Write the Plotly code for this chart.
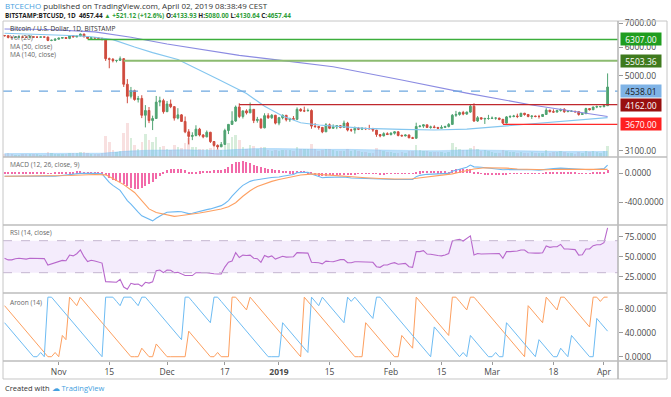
import math
import pandas as pd
import plotly.graph_objects as go

# ---------------- data ----------------
first_day = "2018-10-17"

opens = [6470, 6460, 6390, 6385, 6405, 6410, 6400, 6395, 6420, 6400,
         6400, 6410, 6405, 6270, 6275, 6320, 6360, 6385, 6350, 6465,
         6410, 6445, 6530, 6415, 6350, 6380, 6370, 6355, 6320, 5580,
         5560, 5510, 5520, 5580, 4740, 4390, 4550, 4300, 4330, 3890,
         4010, 3760, 3810, 4230, 4270, 3980, 4180, 4110, 3820, 3900,
         3740, 3500, 3400, 3420, 3560, 3430, 3390, 3490, 3290, 3210,
         3180, 3230, 3530, 3670, 3750, 4100, 3860, 4000, 3950, 4040,
         3760, 3790, 3590, 3880, 3830, 3890, 3700, 3830, 3890, 3780,
         3810, 3790, 4040, 4000, 4000, 4010, 3630, 3620, 3600, 3500,
         3660, 3580, 3610, 3640, 3600, 3700, 3540, 3540, 3580, 3560,
         3580, 3570, 3570, 3540, 3440, 3410, 3460, 3440, 3470, 3500,
         3420, 3410, 3430, 3370, 3360, 3620, 3630, 3660, 3600, 3610,
         3600, 3580, 3600, 3620, 3670, 3890, 3910, 3960, 3920, 3970,
         4120, 3750, 3830, 3800, 3810, 3810, 3820, 3820, 3790, 3700,
         3850, 3860, 3870, 3860, 3940, 3910, 3860, 3870, 3860, 3860,
         3910, 4020, 3980, 3970, 4010, 4040, 3980, 3990, 3990, 3980,
         3910, 3930, 4060, 4030, 4100, 4110, 4110, 4133.93]
highs = [6490, 6490, 6440, 6420, 6460, 6430, 6420, 6470, 6425, 6430,
         6430, 6420, 6420, 6300, 6350, 6380, 6400, 6390, 6480, 6470,
         6460, 6550, 6540, 6430, 6400, 6400, 6400, 6370, 6330, 5620,
         5600, 5530, 5660, 5600, 4900, 4660, 4580, 4400, 4420, 4150,
         4100, 3880, 4400, 4380, 4320, 4260, 4300, 4120, 4070, 3920,
         3860, 3560, 3490, 3650, 3590, 3450, 3530, 3500, 3300, 3230,
         3280, 3570, 3680, 3990, 4140, 4200, 4010, 4040, 4220, 4040,
         3850, 3820, 3940, 3940, 3920, 3900, 3850, 3910, 3890, 3830,
         3870, 4090, 4070, 4110, 4060, 4040, 3700, 3630, 3610, 3700,
         3690, 3670, 3650, 3650, 3760, 3730, 3570, 3620, 3610, 3600,
         3590, 3660, 3590, 3540, 3450, 3490, 3490, 3490, 3510, 3510,
         3440, 3440, 3440, 3390, 3710, 3650, 3670, 3660, 3640, 3650,
         3610, 3650, 3640, 3700, 3920, 4000, 3980, 4000, 3980, 4160,
         4200, 3870, 3830, 3830, 3900, 3860, 3840, 3830, 3800, 3870,
         3890, 3900, 3930, 3950, 3950, 3920, 3890, 3880, 3900, 3920,
         4070, 4020, 4040, 4030, 4060, 4070, 4010, 4010, 4000, 3990,
         3940, 4080, 4070, 4110, 4140, 4120, 4150, 5080.00]
lows = [6430, 6350, 6370, 6370, 6400, 6380, 6370, 6390, 6380, 6380,
        6390, 6390, 6240, 6240, 6250, 6300, 6350, 6330, 6320, 6390,
        6400, 6440, 6400, 6330, 6340, 6300, 6330, 6270, 5500, 5250,
        5450, 5450, 5510, 4660, 4200, 4330, 4270, 4220, 3820, 3600,
        3700, 3540, 3800, 4120, 3930, 3970, 4070, 3760, 3790, 3740,
        3470, 3230, 3320, 3400, 3400, 3360, 3380, 3260, 3180, 3130,
        3180, 3230, 3450, 3660, 3730, 3820, 3810, 3910, 3950, 3700,
        3710, 3570, 3580, 3800, 3800, 3670, 3650, 3790, 3740, 3730,
        3780, 3770, 3980, 3970, 3990, 3570, 3590, 3550, 3470, 3500,
        3560, 3570, 3560, 3580, 3600, 3510, 3500, 3460, 3540, 3540,
        3540, 3560, 3500, 3390, 3380, 3400, 3430, 3420, 3440, 3400,
        3400, 3400, 3360, 3350, 3350, 3600, 3590, 3590, 3570, 3580,
        3560, 3580, 3600, 3600, 3660, 3850, 3880, 3890, 3900, 3950,
        3730, 3730, 3780, 3680, 3780, 3800, 3780, 3770, 3680, 3690,
        3820, 3840, 3820, 3850, 3880, 3840, 3800, 3840, 3810, 3850,
        3900, 3960, 3950, 3960, 3980, 3950, 3970, 3980, 3950, 3880,
        3900, 3920, 4010, 4020, 4070, 4090, 4090, 4130.64]
closes = [6460, 6390, 6385, 6405, 6410, 6400, 6395, 6420, 6400, 6400,
          6410, 6405, 6270, 6275, 6320, 6360, 6385, 6350, 6465, 6410,
          6445, 6530, 6415, 6350, 6380, 6370, 6355, 6320, 5580, 5560,
          5510, 5520, 5580, 4740, 4390, 4550, 4300, 4330, 3890, 4010,
          3760, 3810, 4230, 4270, 3980, 4180, 4110, 3820, 3900, 3740,
          3500, 3400, 3420, 3560, 3430, 3390, 3490, 3290, 3210, 3180,
          3230, 3530, 3670, 3750, 4100, 3860, 4000, 3950, 4040, 3760,
          3790, 3590, 3880, 3830, 3890, 3700, 3830, 3890, 3780, 3810,
          3790, 4040, 4000, 4000, 4010, 3630, 3620, 3600, 3500, 3660,
          3580, 3610, 3640, 3600, 3700, 3540, 3540, 3580, 3560, 3580,
          3570, 3570, 3540, 3440, 3410, 3460, 3440, 3470, 3500, 3420,
          3410, 3430, 3370, 3360, 3620, 3630, 3660, 3600, 3610, 3600,
          3580, 3600, 3620, 3670, 3890, 3910, 3960, 3920, 3970, 4120,
          3750, 3830, 3800, 3810, 3810, 3820, 3820, 3790, 3700, 3850,
          3860, 3870, 3860, 3940, 3910, 3860, 3870, 3860, 3860, 3910,
          4020, 3980, 3970, 4010, 4040, 3980, 3990, 3990, 3980, 3910,
          3930, 4060, 4030, 4100, 4110, 4110, 4136.32, 4657.44]
volumes = [4, 4.5, 3.5, 2.5, 2.5, 3.5, 3.5, 4, 3.5, 3,
           2.5, 2.5, 6, 4.5, 4, 4, 4, 3, 5, 5,
           4.5, 6, 5.5, 4.5, 3, 3, 4, 4.5, 25, 18,
           8, 6, 7, 28, 40, 22, 14, 10, 18, 27,
           20, 18, 23, 12, 13, 9, 8, 14, 12, 11,
           16, 22, 12, 12, 10, 9, 9, 11, 12, 9,
           8, 16, 17, 24, 26, 20, 12, 9, 14, 13,
           10, 12, 12, 8, 7, 8, 7, 8, 8, 8,
           7, 12, 10, 10, 9, 15, 9, 7, 8, 10,
           9, 8, 7, 7, 7, 9, 7, 8, 7, 6,
           6, 5, 5, 11, 8, 7, 6, 6, 5, 5,
           6, 5, 7, 7, 14, 8, 7, 7, 6, 6,
           6, 6, 5, 6, 16, 12, 9, 8, 8, 11,
           13, 9, 7, 8, 7, 6, 5, 5, 8, 7,
           6, 6, 5, 6, 5, 5, 6, 5, 5, 5,
           8, 5, 6, 6, 7, 6, 5, 5, 4, 6,
           5, 7, 6, 7, 6, 5, 7, 13]

vol_ma_days = [0, 10, 20, 27, 30, 34, 40, 45, 50, 55, 60, 65, 70, 75, 80, 85,
               90, 95, 100, 105, 110, 115, 120, 125, 130, 135, 140, 145, 150,
               155, 160, 167]
vol_ma_values = [4, 4, 4.2, 4.5, 5.5, 7, 8, 8.5, 8.5, 8, 8, 9, 10, 10, 9.5, 9.5,
                 9, 9, 8.5, 8, 7.5, 7.5, 7.5, 8, 8.5, 8, 7.5, 7, 7,
                 6.5, 6.5, 6.5]

ma50_days = [0, 10, 20, 24, 30, 36, 41, 48, 54, 59, 67, 72, 77, 82, 87, 91,
             100, 110, 119, 128, 138, 147, 156, 164, 167]
ma50_values = [6560, 6520, 6460, 6420, 6300, 6010, 5800, 5550, 5200, 4900, 4470,
               4120, 3870, 3710, 3655, 3628, 3577, 3555, 3540, 3562, 3628, 3690,
               3753, 3806, 3831]
ma140_days = [0, 12, 25, 35, 45, 55, 65, 76, 91, 110, 128, 146, 155, 164, 167]
ma140_values = [6740, 6720, 6620, 6400, 6130, 5900, 5700, 5530, 5300, 4870, 4480,
                4155, 4030, 3910, 3860]

macd_days = [0, 6, 12, 14, 18, 21, 25, 27, 28, 29, 30, 31, 32, 33, 34, 35, 36,
             37, 38, 39, 40, 41, 42, 43, 44, 45, 46, 47, 48, 49, 50, 51, 52, 53,
             54, 55, 56, 57, 58, 59, 60, 61, 62, 63, 64, 65, 66, 67, 68, 69, 70,
             71, 72, 73, 74, 75, 76, 77, 78, 79, 80, 81, 82, 83, 84, 85, 86, 87,
             88, 89, 90, 91, 92, 94, 96, 98, 100, 102, 104, 106, 108, 110, 113,
             114, 115, 117, 120, 123, 124, 126, 128, 129, 130, 132, 135, 138,
             140, 143, 146, 148, 150, 152, 154, 156, 158, 160, 162, 164, 166, 167]
macd_values = [-45, -40, -42, -45, -25, -5, -5, -12, -70, -130, -170, -205, -240,
               -310, -380, -430, -490, -540, -590, -615, -645, -660, -625, -590,
               -565, -540, -535, -540, -532, -535, -547, -560, -555, -540, -525,
               -515, -505, -495, -480, -465, -450, -420, -380, -320, -260, -215,
               -170, -140, -115, -100, -90, -85, -75, -68, -62, -60, -55, -45,
               -35, -28, -20, 5, 10, 12, 10, -15, -35, -50, -65, -60, -60, -58,
               -52, -55, -68, -73, -75, -80, -90, -92, -90, -90, -90, -50, -32,
               -18, -8, -5, 25, 55, 80, 110, 85, 80, 62, 45, 48, 50, 45, 40, 55,
               62, 68, 62, 55, 42, 45, 52, 60, 110]
signal_days = [0, 12, 18, 25, 27, 28, 30, 33, 36, 38, 40, 42, 44, 46, 47, 48, 50,
               52, 54, 56, 58, 60, 62, 64, 66, 68, 70, 72, 74, 76, 78, 80, 82, 84,
               86, 88, 90, 92, 95, 98, 100, 104, 108, 113, 115, 118, 121, 124,
               126, 128, 130, 133, 136, 139, 142, 146, 150, 154, 158, 162, 167]
signal_values = [-45, -42, -35, -20, -18, -25, -75, -160, -268, -380, -495, -545,
                 -570, -585, -598, -592, -582, -568, -552, -535, -518, -497, -465,
                 -410, -320, -245, -185, -145, -115, -90, -68, -48, -28, -18, -12,
                 -22, -30, -35, -40, -55, -65, -75, -82, -80, -68, -45, -30, -12,
                 10, 30, 55, 72, 75, 68, 55, 48, 45, 52, 55, 50, 50]
macd_hist = [5, 5, 4, 4, 5, 5, 5, 5, 5, 5,
             5, 5, -5, -5, 3, 3, 3, 3, 15, 18,
             22, 25, 20, 15, 12, 10, 8, 5, -30, -70,
             -95, -115, -130, -150, -185, -205, -222, -225, -210, -180,
             -150, -125, -80, -35, 5, 35, 50, 58, 60, 50,
             35, 14, 13, 20, 27, 28, 30, 33, 38, 42,
             47, 61, 88, 118, 150, 158, 160, 150, 135, 115,
             95, 80, 70, 62, 53, 42, 35, 30, 28, 25,
             22, 30, 32, 28, 20, 5, -23, -35, -43, -35,
             -32, -28, -25, -20, -15, -18, -17, -15, -12, -10,
             -8, -6, -5, -12, -15, -14, -12, -10, -8, -7,
             -9, -8, -10, -12, 15, 22, 28, 30, 30, 28,
             26, 24, 22, 20, 40, 50, 55, 52, 52, 58,
             20, 5, -8, -15, -20, -22, -22, -20, -25, -18,
             -12, -8, -4, -2, -3, -5, -6, -7, -7, -5,
             8, 10, 12, 12, 15, 10, 8, 5, 3, -8,
             -10, -4, -2, 4, 8, 10, 12, 45]

rsi = [48, 46, 46, 47.5, 48, 47.5, 47, 48, 48, 47.5,
       47.6, 47.6, 39.6, 41, 43, 44.5, 45.4, 45, 52, 51,
       53.7, 58.4, 50, 44, 45.5, 44.5, 43, 42, 18.8, 18.5,
       18, 18, 21.7, 12, 9.2, 16.7, 15.4, 15.8, 13, 18,
       17, 18.6, 32.5, 33.3, 30, 33.3, 33, 30, 30.4, 28,
       26.5, 26.4, 26.4, 30, 29.6, 30, 30, 29, 28.7, 28.3,
       28.5, 37, 43, 44.5, 55, 49, 52, 51.5, 52, 48,
       47.5, 43, 51.5, 49.5, 51, 47, 49, 50.5, 49.5, 50,
       50, 55, 55, 54.5, 54.5, 43, 43, 42.5, 41, 44.5,
       44, 43.7, 45, 46.3, 46.5, 42.5, 42.5, 43.7, 43.7, 43.7,
       43.7, 43.5, 43, 37.5, 36.7, 39.6, 39.6, 41.5, 42.5, 40.5,
       41.5, 41.6, 37.5, 36.7, 56.3, 56.3, 57.5, 53.3, 53, 52,
       51.5, 51, 52, 54, 69.6, 70.8, 71.6, 69.6, 73, 76,
       52, 54, 53.3, 53.3, 53.5, 54, 54, 54, 48, 56.3,
       56.3, 56.5, 57, 58.3, 58.3, 55, 54.5, 54.5, 54.5, 55,
       63.3, 61.7, 62.5, 62.5, 65.4, 59.6, 59.6, 59.6, 58.8, 52,
       52.5, 59.6, 59.6, 63.8, 65, 65, 67.5, 86]

aroon_up = [85.7, 78.6, 71.4, 64.3, 57.1, 50, 42.9, 35.7, 28.6, 21.4,
            14.3, 7.1, 0, 0, 7.1, 0, 35.7, 28.6, 100, 92.9,
            85.7, 100, 92.9, 85.7, 78.6, 71.4, 64.3, 57.1, 50, 42.9,
            35.7, 28.6, 21.4, 14.3, 7.1, 0, 0, 0, 14.3, 7.1,
            0, 0, 21.4, 14.3, 7.1, 0, 0, 0, 0, 0,
            0, 42.9, 35.7, 28.6, 21.4, 14.3, 7.1, 0, 0, 7.1,
            0, 0, 0, 100, 100, 92.9, 85.7, 78.6, 100, 92.9,
            85.7, 78.6, 71.4, 64.3, 57.1, 50, 42.9, 35.7, 28.6, 21.4,
            14.3, 7.1, 0, 100, 92.9, 85.7, 78.6, 71.4, 64.3, 57.1,
            50, 42.9, 35.7, 28.6, 21.4, 14.3, 7.1, 0, 0, 0,
            57.1, 50, 42.9, 35.7, 28.6, 21.4, 14.3, 7.1, 0, 0,
            35.7, 28.6, 21.4, 14.3, 100, 92.9, 85.7, 78.6, 71.4, 64.3,
            57.1, 50, 42.9, 35.7, 100, 100, 92.9, 85.7, 78.6, 100,
            100, 92.9, 85.7, 78.6, 71.4, 64.3, 57.1, 50, 42.9, 35.7,
            28.6, 21.4, 14.3, 7.1, 0, 85.7, 78.6, 71.4, 64.3, 57.1,
            100, 92.9, 85.7, 78.6, 100, 100, 92.9, 85.7, 78.6, 71.4,
            64.3, 57.1, 50, 100, 100, 92.9, 100, 100]
aroon_down = [57.1, 50, 42.9, 35.7, 28.6, 21.4, 14.3, 7.1, 0, 0,
              7.1, 0, 100, 100, 92.9, 85.7, 78.6, 71.4, 64.3, 57.1,
              50, 42.9, 35.7, 28.6, 21.4, 14.3, 7.1, 0, 100, 100,
              100, 92.9, 85.7, 100, 100, 100, 92.9, 85.7, 100, 100,
              92.9, 85.7, 78.6, 71.4, 64.3, 57.1, 50, 42.9, 35.7, 28.6,
              100, 100, 92.9, 85.7, 78.6, 71.4, 64.3, 57.1, 100, 100,
              92.9, 85.7, 78.6, 71.4, 64.3, 57.1, 50, 42.9, 35.7, 28.6,
              21.4, 14.3, 7.1, 0, 0, 0, 0, 57.1, 50, 42.9,
              35.7, 28.6, 21.4, 14.3, 7.1, 100, 92.9, 85.7, 100, 92.9,
              85.7, 78.6, 71.4, 64.3, 57.1, 100, 92.9, 100, 92.9, 85.7,
              78.6, 71.4, 64.3, 100, 100, 92.9, 85.7, 78.6, 71.4, 64.3,
              57.1, 50, 42.9, 35.7, 28.6, 21.4, 14.3, 7.1, 0, 50,
              42.9, 35.7, 28.6, 21.4, 14.3, 7.1, 0, 7.1, 0, 35.7,
              28.6, 21.4, 14.3, 7.1, 0, 0, 7.1, 0, 0, 57.1,
              50, 42.9, 35.7, 28.6, 21.4, 14.3, 7.1, 0, 28.6, 21.4,
              14.3, 7.1, 0, 0, 14.3, 7.1, 0, 35.7, 28.6, 21.4,
              14.3, 7.1, 0, 0, 64.3, 57.1, 50, 42.9]

level_values = [6307.00, 5503.36, 4538.01, 4162.00, 3670.00]
level_start_days = [23, 33, None, 65, 138]

time_tick_dates = ["2018-11-01", "2018-11-15", "2018-12-01", "2018-12-17", "2019-01-01",
                   "2019-01-15", "2019-02-01", "2019-02-15", "2019-03-01", "2019-03-18",
                   "2019-04-01"]
time_tick_labels = ["Nov", "15", "Dec", "17", "<b>2019</b>", "15", "Feb", "15", "Mar",
                    "18", "Apr"]
price_ticks = [3100, 5000, 6000, 7000]
macd_ticks = [0, -400]
rsi_ticks = [25, 50, 75]
aroon_ticks = [0, 40, 80]

# ---------------- figure ----------------
dates = pd.date_range(first_day, periods=len(closes), freq="D")
x_range = ["2018-10-16 13:40", "2019-04-04 21:07"]
DAY_MS = 86400000

UP = "#4fa371"
DOWN = "#cf4b3e"
fig = go.Figure()

# volume (base axis y) + its moving average
vol_colors = ["rgba(100,185,115,0.26)" if c >= o else "rgba(225,115,115,0.22)"
              for o, c in zip(opens, closes)]
fig.add_trace(go.Bar(x=dates, y=volumes, width=0.7 * DAY_MS,
                     marker=dict(color=vol_colors, line_width=0),
                     xaxis="x", yaxis="y"))
fig.add_trace(go.Scatter(x=[dates[k] for k in vol_ma_days], y=vol_ma_values,
                         mode="lines", fill="tozeroy",
                         fillcolor="rgba(105,185,245,0.45)",
                         line=dict(color="rgba(105,185,245,0.6)", width=0.5),
                         xaxis="x", yaxis="y"))

# moving averages
fig.add_trace(go.Scatter(x=[dates[k] for k in ma140_days], y=ma140_values, mode="lines",
                         line=dict(color="#8b8be2", width=1.1), xaxis="x", yaxis="y5"))
fig.add_trace(go.Scatter(x=[dates[k] for k in ma50_days], y=ma50_values, mode="lines",
                         line=dict(color="#84c6ef", width=1.1), xaxis="x", yaxis="y5"))

# horizontal levels
level_styles = [dict(color="#3cae3c", width=1.3),
                dict(color="#8cbb70", width=2),
                dict(color="#6ea8e0", width=1.2, dash="dash"),
                dict(color="#c0282d", width=1.4),
                dict(color="#ff2a2a", width=1.4)]
for v, s, st in zip(level_values, level_start_days, level_styles):
    x0 = x_range[0] if s is None else dates[s]
    fig.add_trace(go.Scatter(x=[x0, x_range[1]], y=[v, v], mode="lines", line=st,
                             xaxis="x", yaxis="y5"))

# candles
fig.add_trace(go.Candlestick(x=dates, open=opens, high=highs, low=lows, close=closes,
                             increasing=dict(line=dict(color=UP, width=1), fillcolor=UP),
                             decreasing=dict(line=dict(color=DOWN, width=1), fillcolor=DOWN),
                             whiskerwidth=0, xaxis="x", yaxis="y5"))

# MACD
fig.add_trace(go.Bar(x=dates, y=macd_hist, width=0.3 * DAY_MS,
                     marker=dict(color="#f26aa9", line_width=0), xaxis="x", yaxis="y2"))
fig.add_trace(go.Scatter(x=[dates[k] for k in macd_days], y=macd_values, mode="lines",
                         line=dict(color="#6cb8f2", width=1.1), xaxis="x", yaxis="y2"))
fig.add_trace(go.Scatter(x=[dates[k] for k in signal_days], y=signal_values, mode="lines",
                         line=dict(color="#fda062", width=1.1), xaxis="x", yaxis="y2"))

# RSI
fig.add_trace(go.Scatter(x=dates, y=rsi, mode="lines",
                         line=dict(color="#b868cc", width=1.1), xaxis="x", yaxis="y3"))

# Aroon
fig.add_trace(go.Scatter(x=dates, y=aroon_up, mode="lines",
                         line=dict(color="#fd9f5f", width=1.0), xaxis="x", yaxis="y4"))
fig.add_trace(go.Scatter(x=dates, y=aroon_down, mode="lines",
                         line=dict(color="#6ebcf3", width=1.0), xaxis="x", yaxis="y4"))

tickfont = dict(size=8.5, color="#4a4a4a")
common_y = dict(side="right", anchor="x", showgrid=False, zeroline=False, showline=False,
                ticks="outside", ticklen=4, tickcolor="#9a9a9a", tickfont=tickfont,
                fixedrange=True)

fig.update_layout(
    width=671, height=397,
    margin=dict(l=3, r=53, t=21, b=36),
    paper_bgcolor="white", plot_bgcolor="white",
    showlegend=False, bargap=0,
    font=dict(family="Open Sans, Noto Sans, sans-serif", size=8, color="#444"),
    xaxis=dict(type="date", range=x_range, anchor="y4", domain=[0, 1],
               tickvals=time_tick_dates, ticktext=time_tick_labels,
               ticks="outside", ticklen=3, tickcolor="#9a9a9a", tickfont=tickfont,
               showgrid=False, zeroline=False, showline=False,
               rangeslider=dict(visible=False)),
    yaxis=dict(domain=[0.6, 1], range=[0, 160], visible=False, anchor="x", fixedrange=True),
    yaxis5=dict(overlaying="y", type="log",
                range=[math.log10(2981), math.log10(7096)],
                tickvals=price_ticks, ticktext=[f"{t:.2f}" for t in price_ticks],
                **common_y),
    yaxis2=dict(domain=[0.4, 0.6], range=[-717, 221], tickvals=macd_ticks,
                ticktext=[f"{t:.4f}" for t in macd_ticks], **common_y),
    yaxis3=dict(domain=[0.2, 0.4], range=[4.6, 89.6], tickvals=rsi_ticks,
                ticktext=[f"{t:.4f}" for t in rsi_ticks], **common_y),
    yaxis4=dict(domain=[0, 0.2], range=[-7.2, 107], tickvals=aroon_ticks,
                ticktext=[f"{t:.4f}" for t in aroon_ticks], **common_y),
)

shapes = []
# RSI band
shapes.append(dict(type="rect", xref="paper", yref="y3", x0=0, x1=1, y0=30, y1=70,
                   fillcolor="rgba(190,140,235,0.17)", line=dict(width=0), layer="below"))
for lvl in (30, 70):
    shapes.append(dict(type="line", xref="paper", yref="y3", x0=0, x1=1, y0=lvl, y1=lvl,
                       line=dict(color="#c4b6d0", width=1, dash="dash")))
# frame and pane separators
R = 1.0797
B = -0.0529
shapes.append(dict(type="rect", xref="paper", yref="paper", x0=0, x1=R, y0=B, y1=1,
                   line=dict(color="#c6c6c6", width=1)))
shapes.append(dict(type="line", xref="paper", yref="paper", x0=1, x1=1, y0=B, y1=1,
                   line=dict(color="#b3b3b3", width=1.5)))
for yy in (0.6, 0.4, 0.2, 0):
    shapes.append(dict(type="line", xref="paper", yref="paper", x0=0, x1=R, y0=yy, y1=yy,
                       line=dict(color="#bdbdbd", width=1.5)))
fig.update_layout(shapes=shapes)

# price tags on the right axis
tag_bg = ["#1f9d1f", "#3f7a1e", "#7fb3e6", "#980f0f", "#ff2020"]
tag_fg = ["white", "white", "#1b1b1b", "white", "white"]
for v, bg, fg in zip(level_values, tag_bg, tag_fg):
    fig.add_annotation(xref="paper", yref="y5", x=1.003, y=math.log10(v),
                       xanchor="left", yanchor="middle", text=f"{v:.2f}",
                       showarrow=False, bgcolor=bg, width=38, height=10,
                       font=dict(size=8.5, color=fg), borderpad=1, align="center")

# pane titles
titles = [("Bitcoin / U.S. Dollar, 1D, BITSTAMP", 0.9765, "#333"),
          ("Vol (20)", 0.951, "#666"),
          ("MA (50, close)", 0.925, "#666"),
          ("MA (140, close)", 0.90, "#666"),
          ("MACD (12, 26, close, 9)", 0.5765, "#666"),
          ("RSI (14, close)", 0.3765, "#666"),
          ("Aroon (14)", 0.1735, "#666")]
for t, yy, col in titles:
    fig.add_annotation(xref="paper", yref="paper", x=0.008, y=yy, xanchor="left",
                       yanchor="middle", text=t, showarrow=False,
                       font=dict(size=6.6, color=col))

G = "#2f9e3a"
fig.add_annotation(xref="paper", yref="paper", x=0, y=1.047, xanchor="left", yanchor="middle",
                   showarrow=False, font=dict(size=8, color="#333"),
                   text="<span style='color:#4a9fe0'>BTCECHO</span> published on TradingView.com, "
                        "April 02, 2019 08:38:49 CEST")
fig.add_annotation(xref="paper", yref="paper", x=0, y=1.0176, xanchor="left", yanchor="middle",
                   showarrow=False, font=dict(size=6.4, color="#222"),
                   text=f"<b>BITSTAMP:BTCUSD, 1D  4657.44 <span style='color:{G}'>▲ +521.12 (+12.6%)</span> "
                        f"O:<span style='color:{G}'>4133.93</span> H:<span style='color:{G}'>5080.00</span> "
                        f"L:<span style='color:{G}'>4130.64</span> C:<span style='color:{G}'>4657.44</span></b>")
fig.add_annotation(xref="paper", yref="paper", x=0, y=-0.0794, xanchor="left", yanchor="middle",
                   showarrow=False, font=dict(size=7.5, color="#333"),
                   text="Created with <span style='color:#45a1e0'>☁ TradingView</span>")

fig.write_html("out.html", config={"displayModeBar": False},
               post_script="document.body.style.margin='0';document.body.style.overflow='hidden';")
